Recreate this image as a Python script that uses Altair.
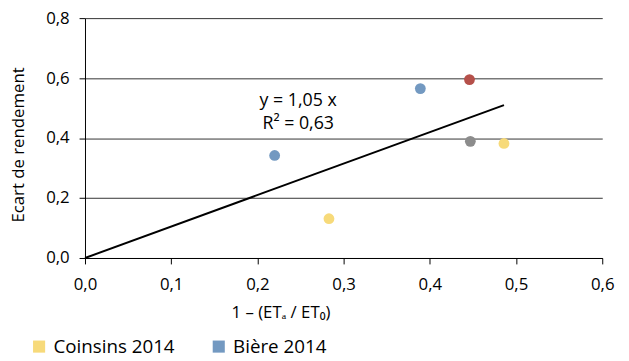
import altair as alt
import pandas as pd

# ---- data ----
series = ["Changins 2013", "Goumoens 2013", "Coinsins 2014", "Bière 2014"]
colors = ["#B5504A", "#8C8C8C", "#F7DA7A", "#7399C1"]

pt_series = ["Bière 2014", "Coinsins 2014", "Bière 2014", "Changins 2013", "Goumoens 2013", "Coinsins 2014"]
pt_x = [0.220, 0.283, 0.389, 0.446, 0.447, 0.486]
pt_y = [0.342, 0.131, 0.565, 0.595, 0.389, 0.382]

fit_x = [0.0, 0.486]
fit_y = [0.0, 0.510]

eq_lines = ["y = 1,05 x", "R² = 0,63"]

x_ticks = [0.0, 0.1, 0.2, 0.3, 0.4, 0.5, 0.6]
y_ticks = [0.0, 0.2, 0.4, 0.6, 0.8]

FONT = "Open Sans"

pts = pd.DataFrame({"serie": pt_series, "x": pt_x, "y": pt_y})
fit = pd.DataFrame({"x": fit_x, "y": fit_y})
eq = pd.DataFrame({"t": [eq_lines]})

comma = "replace(format(datum.value, '.1f'), '.', ',')"

xscale = alt.Scale(domain=[0, 0.6], nice=False)
yscale = alt.Scale(domain=[0, 0.8], nice=False)

xaxis = alt.Axis(values=x_ticks, labelExpr=comma, grid=False, domainColor="black",
                 tickColor="black", tickSize=6, labelPadding=13, labelFlush=False,
                 title="1 – (ETₐ / ET₀)", titleX=198, titleY=60,
                 titleBaseline="alphabetic", titleFontWeight="normal")
yaxis = alt.Axis(values=y_ticks, labelExpr=comma, grid=True, gridColor="#333333",
                 gridWidth=1, domainColor="black", tickColor="black", tickSize=6,
                 labelPadding=10, labelFlush=False,
                 title="Ecart de rendement", titleX=-58, titleY=128,
                 titleFontWeight="normal")

line = alt.Chart(fit).mark_line(color="black", strokeWidth=2).encode(
    x=alt.X("x:Q", scale=xscale, axis=xaxis),
    y=alt.Y("y:Q", scale=yscale, axis=yaxis),
)

points = alt.Chart(pts).mark_circle(size=120, opacity=1).encode(
    x=alt.X("x:Q", scale=xscale),
    y=alt.Y("y:Q", scale=yscale),
    color=alt.Color("serie:N", scale=alt.Scale(domain=series, range=colors),
                    legend=alt.Legend(title=None, orient="none", legendX=-451, legendY=323,
                                      direction="horizontal", columns=4,
                                      symbolType="square", symbolSize=150,
                                      symbolStrokeWidth=0, labelFontSize=19,
                                      labelFont=FONT, labelColor="black",
                                      labelOffset=5, columnPadding=35)),
)

text = alt.Chart(eq).mark_text(fontSize=18, font=FONT, align="center",
                               baseline="alphabetic", lineHeight=23, color="black").encode(
    x=alt.value(216), y=alt.value(89), text="t"
)

chart = alt.layer(line, points, text).properties(
    width=524, height=243,
    autosize=alt.AutoSizeParams(type="none"),
    padding={"left": 78, "top": 8, "right": 19, "bottom": 95},
).configure_view(stroke=None).configure_axis(
    labelFont=FONT, titleFont=FONT, labelFontSize=17, titleFontSize=17,
    labelColor="black", titleColor="black",
)

chart.save("out.html", embed_options={"renderer": "svg", "actions": False})
